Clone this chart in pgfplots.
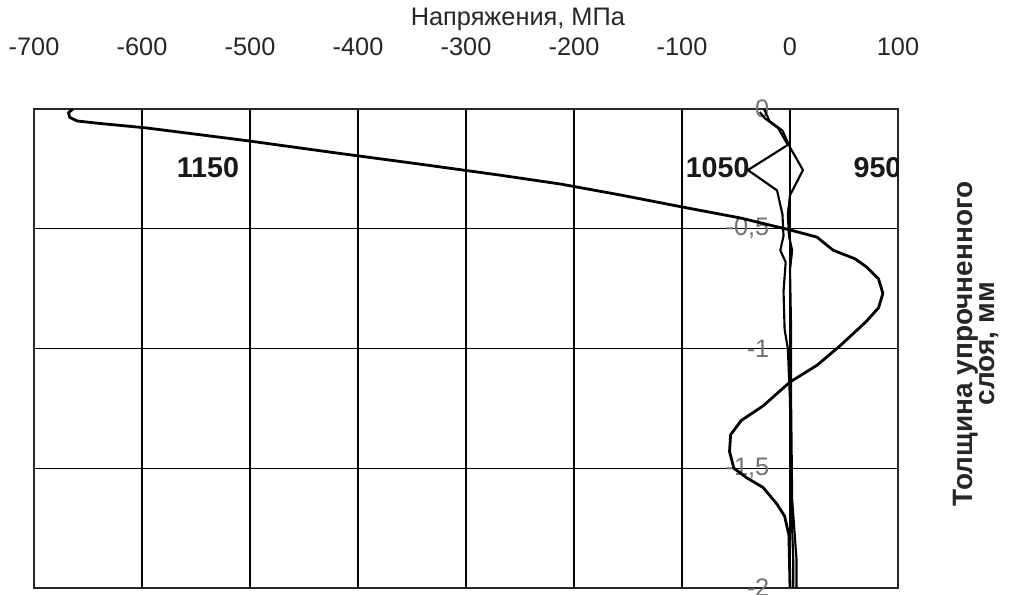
\documentclass[border=0pt]{standalone}
\usepackage{fontspec}
\setmainfont{Liberation Sans}
\usepackage{pgfplots}
\pgfplotsset{compat=1.18}
\begin{document}
\begin{tikzpicture}
\begin{axis}[
  scale only axis, width=648pt, height=359.25pt,
  xmin=-700, xmax=100, ymin=-2, ymax=0,
  xtick={-700,-600,-500,-400,-300,-200,-100,0,100},
  xticklabels={-700,-600,-500,-400,-300,-200,-100,0,100},
  ytick={-2,-1.5,-1,-0.5,0},
  yticklabels={-2,{-1,5},-1,{-0,5},0},
  xticklabel pos=upper,
  major tick length=0pt,
  grid=major,
  major grid style={black, line width=0.9pt},
  axis line style={black!85, line width=1.5pt},
  xticklabel style={font=\fontsize{19}{19}\selectfont, anchor=center, yshift=47pt, text=black!85},
  yticklabel style={font=\fontsize{19}{19}\selectfont, anchor=east, xshift=555pt, text=black!55},
  xlabel={Напряжения, МПа},
  xlabel style={at={(axis description cs:0.56,1)}, anchor=center, yshift=67pt, font=\fontsize{19}{19}\selectfont, text=black!85},
  ylabel={Толщина упрочненного\\слоя, мм},
  ylabel style={at={(axis description cs:1.0903,0.51)}, anchor=center, align=center, font=\bfseries\fontsize{21}{17}\selectfont, text=black!85},
]
% 1150
\addplot[black, line width=2.1pt, line join=round] coordinates {
(-664,0) (-668,-0.015) (-667,-0.035) (-660,-0.05) (-640,-0.06) (-596,-0.079)
(-500,-0.134) (-426,-0.180) (-343,-0.230) (-269,-0.276) (-213,-0.313)
(-157,-0.359) (-100,-0.409) (-46,-0.455) (0,-0.505) (25,-0.535) (40,-0.59) (60,-0.625)
(71,-0.66) (82,-0.71) (86,-0.77) (82,-0.83) (70,-0.89) (58,-0.94) (46,-0.99)
(25,-1.07) (0,-1.14) (-25,-1.24) (-45,-1.30) (-55,-1.36) (-56,-1.43) (-52,-1.50)
(-40,-1.54) (-25,-1.58) (-12,-1.65) (-5,-1.70) (-1,-1.78) (0,-2)
};
% 1050
\addplot[black, line width=1.6pt, line join=round] coordinates {
(-28,-0.013) (-23,-0.04) (-11,-0.08) (-2,-0.15) (-39,-0.255) (-12,-0.34)
(-7,-0.44) (-6,-0.53) (-9,-0.59) (-4,-0.64) (-6,-0.76) (-5,-0.92) (-2,-1.0)
(0,-1.22) (1,-1.63) (3,-1.88) (3,-2.0)
};
% 950
\addplot[black, line width=1.6pt, line join=round] coordinates {
(-24,0) (-19,-0.05) (-7,-0.09) (0,-0.16) (12,-0.255) (0,-0.36) (-2,-0.44)
(-1,-0.53) (2,-0.59) (0,-0.67) (1,-0.92) (1,-1.22) (2,-1.63) (6,-1.88) (6,-2.0)
};
\node[font=\bfseries\fontsize{21.5}{21.5}\selectfont, text=black!90] at (axis cs:-539,-0.246) {1150};
\node[font=\bfseries\fontsize{21.5}{21.5}\selectfont, text=black!90] at (axis cs:-67,-0.246) {1050};
\node[font=\bfseries\fontsize{21.5}{21.5}\selectfont, text=black!90] at (axis cs:81,-0.246) {950};
\end{axis}
\pgfresetboundingbox
\path (-25.5pt,-5.25pt) rectangle (736.5pt,441pt);
\end{tikzpicture}
\end{document}
